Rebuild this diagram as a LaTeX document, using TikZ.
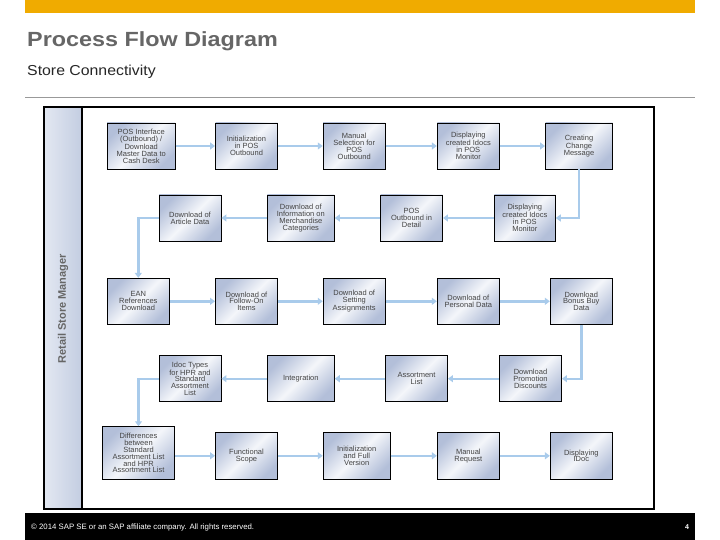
\documentclass[tikz,border=0pt]{standalone}
\usepackage{fontspec}
\setmainfont{Liberation Sans}
\usepackage{graphicx}
\usetikzlibrary{arrows.meta}
\definecolor{sapgold}{HTML}{F0AB00}
\definecolor{titlegray}{HTML}{666666}
\definecolor{boxedge}{HTML}{B3BFD9}
\definecolor{boxmid}{HTML}{F4F6FA}
\definecolor{conncol}{HTML}{A9CBEB}
\definecolor{boxtext}{HTML}{444444}
\definecolor{lanea}{HTML}{E3E8F2}
\definecolor{laneb}{HTML}{C3CDE1}
\definecolor{lanetext}{HTML}{666666}
\begin{document}
\begin{tikzpicture}[x=1pt,y=-1pt,
  box/.style={draw=black, line width=0.9pt, top color=boxedge, bottom color=boxedge,
    middle color=boxmid, shading angle=45, align=center, text=boxtext,
    font=\fontsize{7.5}{6.9}\selectfont, inner sep=0pt, minimum height=46pt, minimum width=62pt},
  conn/.style={draw=conncol, line width=2.4pt, -{Triangle[length=5pt,width=7pt]}},
]
\useasboundingbox (0,0) rectangle (720,540);
% header
\fill[sapgold] (25,0) rectangle (695,12.7);
\node[anchor=base west, inner sep=0pt, text=titlegray, font=\bfseries\fontsize{20.5}{24}\selectfont] (title) at (27,46.3) {\scalebox{1.14}[1]{Process Flow Diagram}};
\node[anchor=base west, inner sep=0pt, text=black!85, font=\fontsize{14.4}{17}\selectfont] (sub) at (27,76) {\scalebox{1.1}[1]{Store Connectivity}};
\draw[gray!80, line width=0.8pt] (25,97) -- (695,97);
% lane
\shade[left color=lanea, right color=laneb] (44,107) rectangle (82,509);
\draw[black, line width=2pt] (44,107) rectangle (654,509);
\draw[black, line width=2pt] (82,107) -- (82,509);
\node[rotate=90, text=lanetext, font=\bfseries\fontsize{11}{12}\selectfont] (lane) at (63,309) {Retail Store Manager};
% row 1
\node[box, minimum width=68pt] (b11) at (141.2,146) {POS Interface\\(Outbound) /\\Download\\Master Data to\\Cash Desk};
\node[box] (b12) at (246.5,146) {Initialization\\in POS\\Outbound};
\node[box] (b13) at (354.2,146) {Manual\\Selection for\\POS\\Outbound};
\node[box] (b14) at (468.3,146) {Displaying\\created Idocs\\in POS\\Monitor};
\node[box, minimum width=67pt] (b15) at (579,146) {Creating\\Change\\Message};
% row 2
\node[box] (b21) at (190,218) {Download of\\Article Data};
\node[box, minimum width=67pt] (b22) at (300.8,218) {Download of\\Information on\\Merchandise\\Categories};
\node[box] (b23) at (411.5,218) {POS\\Outbound in\\Detail};
\node[box, minimum width=61pt] (b24) at (524.8,218) {Displaying\\created Idocs\\in POS\\Monitor};
% row 3
\node[box] (b31) at (138.3,301.3) {EAN\\References\\Download};
\node[box] (b32) at (246.5,301.3) {Download of\\Follow-On\\Items};
\node[box] (b33) at (354.2,301.3) {Download of\\Setting\\Assignments};
\node[box] (b34) at (468.3,301.3) {Download of\\Personal Data};
\node[box] (b35) at (581.3,301.3) {Download\\Bonus Buy\\Data};
% row 4
\node[box] (b41) at (190,378.7) {Idoc Types\\for HPR and\\Standard\\Assortment\\List};
\node[box, minimum width=67pt] (b42) at (300.8,378.7) {Integration};
\node[box] (b43) at (416.5,378.7) {Assortment\\List};
\node[box] (b44) at (530.5,378.7) {Download\\Promotion\\Discounts};
% row 5
\node[box, minimum width=72pt, minimum height=52.6pt] (b51) at (138.5,453) {Differences\\between\\Standard\\Assortment List\\and HPR\\Assortment List};
\node[box, minimum height=47pt] (b52) at (246.5,455.8) {Functional\\Scope};
\node[box, minimum width=67pt, minimum height=47pt] (b53) at (356.7,455.8) {Initialization\\and Full\\Version};
\node[box, minimum height=47pt] (b54) at (468.3,455.8) {Manual\\Request};
\node[box, minimum height=47pt] (b55) at (581.3,455.8) {Displaying\\IDoc};
% connectors
\draw[conn] (b11) -- (b12);
\draw[conn] (b12) -- (b13);
\draw[conn] (b13) -- (b14);
\draw[conn] (b14) -- (b15);
\draw[conn] (b15.south) |- (b24.east);
\draw[conn] (b24) -- (b23);
\draw[conn] (b23) -- (b22);
\draw[conn] (b22) -- (b21);
\draw[conn] (b21.west) -| (b31.north);
\draw[conn] (b31) -- (b32);
\draw[conn] (b32) -- (b33);
\draw[conn] (b33) -- (b34);
\draw[conn] (b34) -- (b35);
\draw[conn] (b35.south) |- (b44.east);
\draw[conn] (b44) -- (b43);
\draw[conn] (b43) -- (b42);
\draw[conn] (b42) -- (b41);
\draw[conn] (b41.west) -| (b51.north);
\draw[conn] (b51.east |- b52.west) -- (b52.west);
\draw[conn] (b52) -- (b53);
\draw[conn] (b53) -- (b54);
\draw[conn] (b54) -- (b55);
% footer
\fill[black] (25,513) rectangle (695,540);
\node[anchor=west, inner sep=0pt, text=white, font=\fontsize{7.8}{9}\selectfont] (foot) at (31,527) {© 2014 SAP SE or an SAP affiliate company. All rights reserved.};
\node[inner sep=0pt, text=white, font=\bfseries\fontsize{7}{8}\selectfont] (pg) at (687,527) {4};
\end{tikzpicture}
\end{document}
